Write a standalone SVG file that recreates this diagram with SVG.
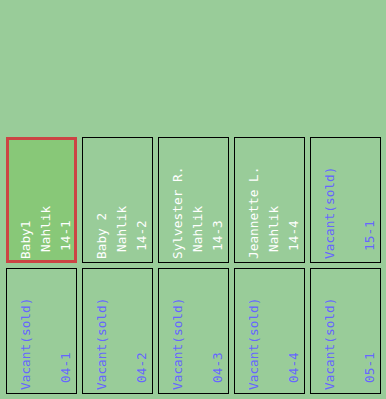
<svg xmlns="http://www.w3.org/2000/svg" width="386" height="399" viewBox="0 0 386 399">
<style>
.bg{fill:#99cc99}
.box{fill:#99cc99;stroke:#000;stroke-width:1}
.sel{fill:#88c878;stroke:#cc4444;stroke-width:3}
text{font-family:"DejaVu Sans Mono","Liberation Mono",monospace;font-size:12.8px}
.w{fill:#ffffff}
.b{fill:#6666ff}
</style>
<rect class="bg" x="0" y="0" width="386" height="399"/>
<g id="n14-1">
<rect class="box" x="6.5" y="137.5" width="70" height="125"/>
<rect class="sel" x="7.5" y="138.5" width="68" height="123"/>
<text class="w" transform="translate(30,259) rotate(-90)">Baby1</text>
<text class="w" transform="translate(50,252) rotate(-90)">Nahlik</text>
<text class="w" transform="translate(70,251) rotate(-90)">14-1</text>
</g>
<g id="n14-2">
<rect class="box" x="82.5" y="137.5" width="70" height="125"/>
<text class="w" transform="translate(106,259) rotate(-90)">Baby 2</text>
<text class="w" transform="translate(126,252) rotate(-90)">Nahlik</text>
<text class="w" transform="translate(146,251) rotate(-90)">14-2</text>
</g>
<g id="n14-3">
<rect class="box" x="158.5" y="137.5" width="70" height="125"/>
<text class="w" transform="translate(182,259) rotate(-90)">Sylvester R.</text>
<text class="w" transform="translate(202,252) rotate(-90)">Nahlik</text>
<text class="w" transform="translate(222,251) rotate(-90)">14-3</text>
</g>
<g id="n14-4">
<rect class="box" x="234.5" y="137.5" width="70" height="125"/>
<text class="w" transform="translate(258,259) rotate(-90)">Jeannette L.</text>
<text class="w" transform="translate(278,252) rotate(-90)">Nahlik</text>
<text class="w" transform="translate(298,251) rotate(-90)">14-4</text>
</g>
<g id="n15-1">
<rect class="box" x="310.5" y="137.5" width="70" height="125"/>
<text class="b" transform="translate(334,259) rotate(-90)">Vacant(sold)</text>
<text class="b" transform="translate(374,251) rotate(-90)">15-1</text>
</g>
<g id="n04-1">
<rect class="box" x="6.5" y="268.5" width="70" height="125"/>
<text class="b" transform="translate(30,390) rotate(-90)">Vacant(sold)</text>
<text class="b" transform="translate(70,383) rotate(-90)">04-1</text>
</g>
<g id="n04-2">
<rect class="box" x="82.5" y="268.5" width="70" height="125"/>
<text class="b" transform="translate(106,390) rotate(-90)">Vacant(sold)</text>
<text class="b" transform="translate(146,383) rotate(-90)">04-2</text>
</g>
<g id="n04-3">
<rect class="box" x="158.5" y="268.5" width="70" height="125"/>
<text class="b" transform="translate(182,390) rotate(-90)">Vacant(sold)</text>
<text class="b" transform="translate(222,383) rotate(-90)">04-3</text>
</g>
<g id="n04-4">
<rect class="box" x="234.5" y="268.5" width="70" height="125"/>
<text class="b" transform="translate(258,390) rotate(-90)">Vacant(sold)</text>
<text class="b" transform="translate(298,383) rotate(-90)">04-4</text>
</g>
<g id="n05-1">
<rect class="box" x="310.5" y="268.5" width="70" height="125"/>
<text class="b" transform="translate(334,390) rotate(-90)">Vacant(sold)</text>
<text class="b" transform="translate(374,383) rotate(-90)">05-1</text>
</g>
<g id="connectors"></g>
</svg>
